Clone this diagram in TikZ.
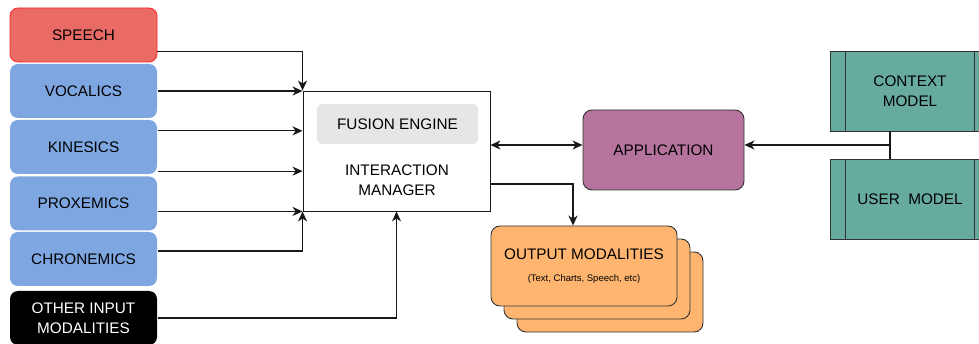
\documentclass[tikz,border=0pt]{standalone}
\usepackage{fontspec}
\setmainfont{Liberation Sans}
\usepackage{tikz}
\usetikzlibrary{arrows.meta,positioning,calc}
\definecolor{speechred}{HTML}{EA6B66}
\definecolor{modblue}{HTML}{7EA6E0}
\definecolor{fusegray}{HTML}{E6E6E6}
\definecolor{appmauve}{HTML}{B5739D}
\definecolor{outorange}{HTML}{FFB570}
\definecolor{modelteal}{HTML}{67AB9F}

\begin{document}
\begin{tikzpicture}[x=1pt,y=-1pt,->,>={Stealth[length=10pt,width=9pt,inset=3pt]},
   line width=1.2pt, black!90,
   every node/.style={font=\fontsize{15.3}{19.5}\selectfont, text=black, align=center, inner sep=0pt},
   inbox/.style={fill=modblue, rounded corners=8pt, minimum width=147pt, minimum height=54pt},
   outbox/.style={draw=black!80, line width=0.9pt, fill=outorange, rounded corners=9pt, minimum width=186pt, minimum height=80pt},
   modelbox/.style={draw=black!80, line width=0.9pt, fill=modelteal, minimum width=160pt, minimum height=80pt}]
  \useasboundingbox (0,0) rectangle (979,344);

  % input modalities
  \node[inbox, fill=speechred, draw=red!85, line width=0.8pt] (speech) at (83.5,35) {SPEECH};
  \node[inbox] (voc) at (83.5,91) {VOCALICS};
  \node[inbox] (kin) at (83.5,147) {KINESICS};
  \node[inbox] (prox) at (83.5,203.5) {PROXEMICS};
  \node[inbox] (chron) at (83.5,259) {CHRONEMICS};
  \node[inbox, fill=black, text=white] (other) at (83.5,318) {OTHER INPUT\\MODALITIES};

  % interaction manager
  \node[draw=black!90, line width=0.9pt, fill=white, minimum width=187pt, minimum height=120pt] (im) at (396.5,151) {};
  \node[fill=fusegray, rounded corners=5pt, minimum width=161pt, minimum height=40pt] (fuse) at (397.5,124) {FUSION ENGINE};
  \node (imtext) at (397,180) {INTERACTION\\MANAGER};
  \coordinate (in1) at ($(im.north west)!1/3!(im.south west)$);
  \coordinate (in2) at ($(im.north west)!2/3!(im.south west)$);

  \node[draw=black!80, line width=0.9pt, fill=appmauve, rounded corners=9pt, minimum width=161pt, minimum height=80pt] (app) at (663.5,150) {APPLICATION};

  % output stack, back to front
  \node[outbox] (out3) at (610,292) {};
  \node[outbox] (out2) at (597,279) {};
  \node[outbox] (out) at (584,266) {OUTPUT MODALITIES\\[3pt]{\fontsize{9.5}{11}\selectfont (Text, Charts, Speech, etc)}};

  \node[modelbox] (ctx) at (910,91) {CONTEXT\\MODEL};
  \node[modelbox] (user) at (910,199) {USER~ MODEL};
  \foreach \m in {ctx,user} {
    \draw[-, line width=0.9pt, black!80] ([xshift=16pt]\m.north west) -- ([xshift=16pt]\m.south west);
    \draw[-, line width=0.9pt, black!80] ([xshift=-16pt]\m.north east) -- ([xshift=-16pt]\m.south east);
  }
  \coordinate (mj) at (890,145);

  \draw ([yshift=11pt]speech.south east) -| (im.north west);
  \draw (voc.east) -- (voc.east -| im.west);
  \draw (kin.east |- in1) -- (in1);
  \draw (kin.south east |- in2) -- (in2);
  \draw (prox.east |- im.south west) -- (im.south west);
  \draw ([yshift=8pt]chron.east) -| (im.south west);
  \draw (other.east) -| (im.south);

  \draw[<->] ([yshift=6pt]im.east) -- ([yshift=6pt]im.east -| app.west);
  \draw ([yshift=-33pt]im.east) -| ([xshift=-11pt]out.north);

  \draw[-] (ctx.south -| mj) -- (user.north -| mj);
  \draw (mj) -- (mj -| app.east);
\end{tikzpicture}
\end{document}
